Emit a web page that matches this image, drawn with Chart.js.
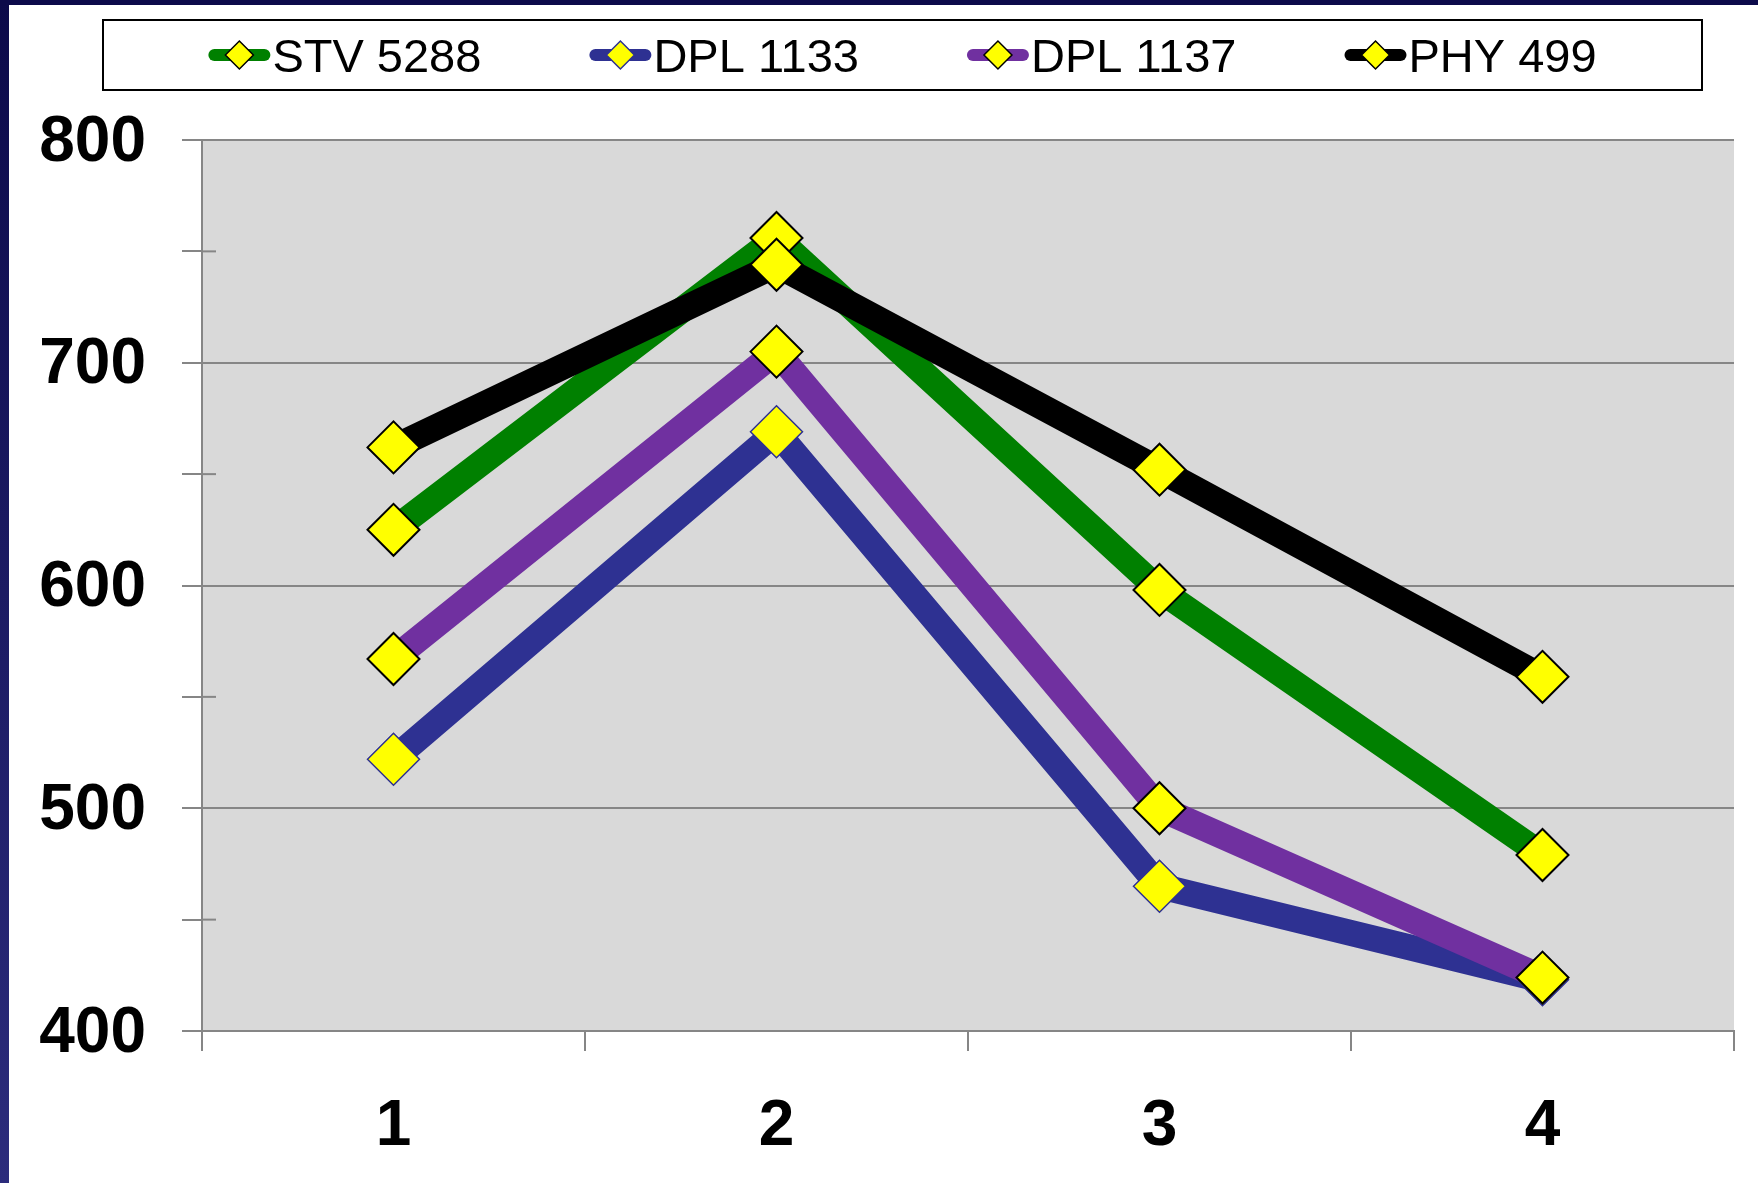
<!DOCTYPE html>
<html>
<head>
<meta charset="utf-8">
<script src="https://cdn.jsdelivr.net/npm/chart.js@4.4.1/dist/chart.umd.min.js"></script>
<style>
  html, body { margin: 0; padding: 0; background: #ffffff; }
  #wrap { width: 1758px; height: 1183px; position: relative; }
</style>
</head>
<body>
<div id="wrap"><canvas id="chart-1"></canvas></div>
<script>
// values
var categories = ["1", "2", "3", "4"];
var stv5288 = [625, 756, 598, 479];
var dpl1133 = [522, 669, 465, 423];
var dpl1137 = [567, 705, 500, 424];
var phy499 = [662, 744, 652, 559];
var seriesNames = ["STV 5288", "DPL 1133", "DPL 1137", "PHY 499"];
var seriesColors = ["#008000", "#2e3192", "#7030a0", "#000000"];
var markerEdges = ["#000000", "#2e3192", "#000000", "#000000"];
var yMin = 400, yMax = 800;

var labelFont = { family: "'Liberation Sans', Arial, sans-serif", size: 64, weight: "bold" };
var gridGray = "#868686";

// navy frame, grey plot area
var frame = {
  id: "frame",
  beforeDraw: function (chart) {
    var ctx = chart.ctx, a = chart.chartArea;
    ctx.save();
    ctx.fillStyle = "#ffffff";
    ctx.fillRect(0, 0, chart.width, chart.height);
    var g = ctx.createLinearGradient(0, 0, 0, chart.height);
    g.addColorStop(0, "#0c0a4a");
    g.addColorStop(1, "#2c2c7c");
    ctx.fillStyle = g;
    ctx.fillRect(0, 0, 9, chart.height);
    ctx.fillStyle = "#0c0a4a";
    ctx.fillRect(0, 0, chart.width, 5);
    ctx.fillStyle = "#d9d9d9";
    ctx.fillRect(a.left, a.top, a.right - a.left, a.bottom - a.top);
    ctx.restore();
  },
  beforeDatasetsDraw: function (chart) {
    // inner half of the minor tick marks
    var ctx = chart.ctx, y = chart.scales.y, a = chart.chartArea;
    ctx.save();
    ctx.strokeStyle = gridGray;
    ctx.lineWidth = 2;
    y.ticks.forEach(function (t) {
      if (t.value % 100 === 0) return;
      var py = y.getPixelForValue(t.value);
      ctx.beginPath();
      ctx.moveTo(a.left, py);
      ctx.lineTo(a.left + 14, py);
      ctx.stroke();
    });
    ctx.restore();
  }
};

// Excel style legend: line + diamond + text, inside a box
var boxLegend = {
  id: "boxLegend",
  afterDraw: function (chart) {
    var ctx = chart.ctx;
    var bx = 103, by = 20, bw = 1599, bh = 70;
    var cy = by + bh / 2;
    var lineLen = 62, gap = 108;
    ctx.save();
    ctx.fillStyle = "#ffffff";
    ctx.fillRect(bx, by, bw, bh);
    ctx.strokeStyle = "#000000";
    ctx.lineWidth = 2;
    ctx.strokeRect(bx, by, bw, bh);
    ctx.font = "47px 'Liberation Sans', Arial, sans-serif";
    ctx.textBaseline = "middle";
    var ds = chart.data.datasets;
    var widths = ds.map(function (d) { return lineLen + 2 + ctx.measureText(d.label).width; });
    var total = widths.reduce(function (s, w) { return s + w; }, 0) + gap * (ds.length - 1);
    var x = bx + bw / 2 - total / 2;
    ds.forEach(function (d, i) {
      ctx.strokeStyle = d.borderColor;
      ctx.lineWidth = 12;
      ctx.lineCap = "round";
      ctx.beginPath();
      ctx.moveTo(x + 6, cy);
      ctx.lineTo(x + lineLen - 6, cy);
      ctx.stroke();
      var mx = x + lineLen / 2, r = 14;
      ctx.beginPath();
      ctx.moveTo(mx - r, cy);
      ctx.lineTo(mx, cy - r);
      ctx.lineTo(mx + r, cy);
      ctx.lineTo(mx, cy + r);
      ctx.closePath();
      ctx.fillStyle = "#ffff00";
      ctx.fill();
      ctx.lineWidth = 1.5;
      ctx.strokeStyle = d.pointBorderColor;
      ctx.stroke();
      ctx.fillStyle = "#000000";
      ctx.fillText(d.label, x + lineLen + 2, cy + 4);
      x += widths[i] + gap;
    });
    ctx.restore();
  }
};

var allSeries = [stv5288, dpl1133, dpl1137, phy499];
var datasets = allSeries.map(function (vals, i) {
  return {
    label: seriesNames[i],
    data: vals,
    borderColor: seriesColors[i],
    backgroundColor: seriesColors[i],
    borderWidth: 26,
    tension: 0,
    fill: false,
    pointStyle: "rectRot",
    pointRadius: 26,
    pointHoverRadius: 26,
    pointBackgroundColor: "#ffff00",
    pointBorderColor: markerEdges[i],
    pointBorderWidth: i === 1 ? 1.5 : 2,
    order: allSeries.length - 1 - i // later series drawn on top
  };
});

var chartOne = document.getElementById("chart-1").getContext("2d");
var myLineChart = new Chart(chartOne, {
  type: "line",
  data: { labels: categories, datasets: datasets },
  plugins: [frame, boxLegend],
  options: {
    responsive: true,
    maintainAspectRatio: false,
    animation: false,
    layout: { autoPadding: false, padding: { top: 140, left: 0, right: 24, bottom: 0 } },
    plugins: {
      legend: { display: false },
      tooltip: { enabled: false }
    },
    scales: {
      x: {
        offset: true,
        afterFit: function (s) { s.height = 152; },
        grid: {
          offset: true,
          drawOnChartArea: false,
          drawTicks: true,
          tickLength: 20,
          color: gridGray,
          lineWidth: 2
        },
        border: { color: gridGray, width: 2 },
        ticks: { color: "#000000", font: labelFont, padding: 38, maxRotation: 0 }
      },
      y: {
        min: yMin,
        max: yMax,
        afterFit: function (s) { s.width = 202; },
        grid: {
          color: function (c) { return c.tick && c.tick.value % 100 === 0 ? gridGray : "rgba(0,0,0,0)"; },
          tickColor: gridGray,
          lineWidth: 2,
          tickLength: 20
        },
        border: { color: gridGray, width: 2 },
        ticks: {
          stepSize: 50,
          autoSkip: false,
          color: "#000000",
          font: labelFont,
          padding: 36,
          labelOffset: 3,
          callback: function (v) { return v % 100 === 0 ? v : ""; }
        }
      }
    }
  }
});
</script>
</body>
</html>
